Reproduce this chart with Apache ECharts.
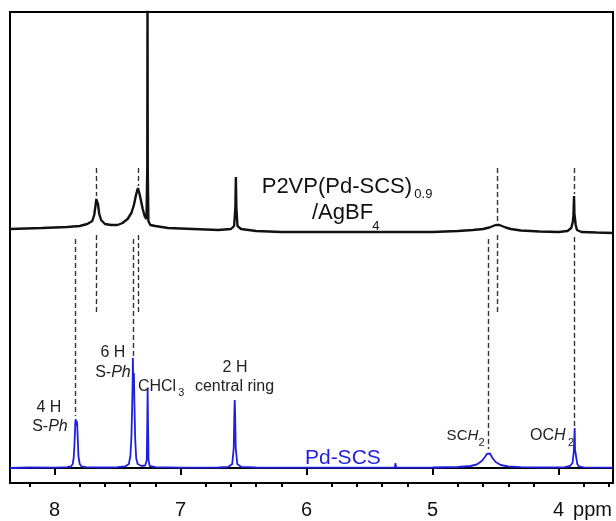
<!DOCTYPE html>
<html><head><meta charset="utf-8">
<script src="https://cdn.jsdelivr.net/npm/echarts@6/dist/echarts.min.js"></script>
<style>html,body{margin:0;padding:0;background:#fff}#c{width:616px;height:521px}</style>
</head><body><div id="c"></div>
<script>
// axis range (ppm, reversed) and ticks
const xMin = 3.569, xMax = 8.353;
const majorTicks = [4, 5, 6, 7, 8];
const minorTicks = [3.6, 3.8, 4.2, 4.4, 4.6, 4.8, 5.2, 5.4, 5.6, 5.8, 6.2, 6.4, 6.6, 6.8, 7.2, 7.4, 7.6, 7.8, 8.2];

// Pd-SCS (blue, bottom trace)
const bluePpm = [8.353, 8.20, 8.00, 7.90, 7.87, 7.855, 7.848, 7.842, 7.838, 7.835, 7.832, 7.828, 7.824, 7.82, 7.815, 7.81, 7.80, 7.785, 7.75, 7.60, 7.50, 7.44, 7.41, 7.398, 7.390, 7.384, 7.380, 7.378, 7.374, 7.370, 7.366, 7.36, 7.352, 7.34, 7.31, 7.28, 7.268, 7.264, 7.261, 7.258, 7.254, 7.245, 7.20, 7.00, 6.70, 6.62, 6.59, 6.578, 6.573, 6.570, 6.567, 6.562, 6.55, 6.52, 6.40, 6.00, 5.60, 5.30, 5.295, 5.29, 5.00, 4.80, 4.70, 4.65, 4.61, 4.585, 4.57, 4.558, 4.545, 4.525, 4.50, 4.46, 4.40, 4.30, 4.10, 3.95, 3.91, 3.89, 3.884, 3.88, 3.876, 3.873, 3.870, 3.866, 3.860, 3.852, 3.84, 3.80, 3.569];
const blueInt = [0, 0.5, 0.3, 0.8, 1.5, 4, 10, 22, 34, 46, 49, 42, 47, 44, 28, 12, 4, 1.5, 0.8, 0.5, 0.8, 1.5, 4, 12, 30, 60, 85, 110, 75, 95, 65, 30, 10, 4, 2, 2.5, 8, 45, 80, 45, 8, 2, 0.8, 0.4, 0.5, 1.2, 4, 20, 55, 68, 55, 20, 4, 1.2, 0.5, 0.3, 0.4, 0.4, 5, 0.4, 0.5, 1, 2, 3.5, 7, 11, 14, 16, 14.5, 10, 6, 3, 1.5, 0.8, 0.5, 0.8, 2, 5, 12, 16, 17, 40, 18, 15, 10, 4, 1.5, 0.6, 0.3];

// P2VP(Pd-SCS)0.9/AgBF4 (black, top trace)
const blackPpm = [8.353, 8.10, 7.90, 7.80, 7.74, 7.70, 7.685, 7.675, 7.668, 7.662, 7.655, 7.645, 7.63, 7.60, 7.55, 7.50, 7.46, 7.42, 7.39, 7.37, 7.355, 7.345, 7.338, 7.332, 7.325, 7.315, 7.30, 7.285, 7.27, 7.264, 7.262, 7.260, 7.255, 7.24, 7.20, 7.10, 6.90, 6.70, 6.60, 6.575, 6.565, 6.561, 6.557, 6.548, 6.52, 6.40, 6.20, 6.00, 5.50, 5.20, 5.00, 4.80, 4.68, 4.60, 4.55, 4.52, 4.50, 4.485, 4.47, 4.45, 4.42, 4.38, 4.30, 4.15, 4.00, 3.93, 3.90, 3.888, 3.883, 3.880, 3.878, 3.875, 3.871, 3.865, 3.855, 3.82, 3.70, 3.569];
const blackInt = [239, 240, 241, 242, 244, 247, 253, 262, 269, 270, 264, 254, 248, 244, 243, 243, 245, 249, 255, 263, 272, 277, 280, 278, 274, 268, 259, 252, 249, 300, 480, 300, 247, 243, 242, 240, 239, 238, 239, 242, 260, 291, 260, 242, 239, 237, 236, 236, 236, 236, 236, 237, 238, 239, 240.5, 242, 243, 243.5, 243, 242, 240.5, 239, 237.5, 236.5, 236, 237, 240, 246, 252, 254, 272, 254, 250, 243, 238, 236, 235.5, 235];

// dashed guide lines: shift, from, to
const guidePpm  = [7.665, 7.335, 4.484, 3.878, 7.665, 7.335, 4.484, 7.832, 7.378, 4.558, 3.873];
const guideFrom = [300, 300, 300, 300, 233, 233, 233, 229, 229, 229, 231];
const guideTo   = [272, 282, 246, 274, 156, 156, 156, 52, 112, 19, 42];

// peak annotations
const annTexts = ['4 H', '{n|S-}{i|Ph}', '6 H', '{n|S-}{i|Ph}', 'CHCl', '3', '2 H', 'central ring', '{s|SC}{si|H}', '2', '{n|OC}{i|H}', '2'];
const annPpm   = [8.044, 8.036, 7.536, 7.536, 7.338, 7.018, 6.568, 6.572, 4.889, 4.636, 4.228, 3.926];
const annVal   = [60, 41, 115, 95, 81, 75, 100, 81, 32, 25, 32, 25];
const annSub   = [false, false, false, false, false, true, false, false, false, true, false, true];
const annAlign = ['center', 'center', 'center', 'center', 'left', 'left', 'center', 'center', 'left', 'left', 'left', 'left'];

// trace names
const nameTexts = ['P2VP(Pd-SCS)', '0.9', '/AgBF', '4', 'Pd-SCS'];
const namePpm   = [6.356, 5.145, 5.957, 5.479, 6.013];
const nameVal   = [281.5, 274, 255, 241.5, 10];

const FONT = 'Liberation Sans';
const pair = (xs, ys) => xs.map((x, i) => [x, ys[i]]);

const annPoints = annTexts.map((t, i) => ({
  coord: [annPpm[i], annVal[i]],
  label: {
    show: true, position: 'inside', formatter: t,
    align: annAlign[i], verticalAlign: 'middle',
    fontSize: annSub[i] ? 11 : 16, color: '#222', fontFamily: FONT,
    rich: {
      n: { fontSize: 16, color: '#222', fontFamily: FONT },
      i: { fontSize: 16, color: '#222', fontFamily: FONT, fontStyle: 'italic' },
      s: { fontSize: 15, color: '#222', fontFamily: FONT },
      si: { fontSize: 15, color: '#222', fontFamily: FONT, fontStyle: 'italic' }
    }
  }
}));
const namePoints = nameTexts.map((t, i) => ({
  coord: [namePpm[i], nameVal[i]],
  label: {
    show: true, position: 'inside', formatter: t, align: 'left', verticalAlign: 'middle',
    fontSize: (i === 1 || i === 3) ? 13 : (i === 4 ? 21 : 22),
    color: i === 4 ? '#1f1fe0' : '#111', fontFamily: FONT
  }
}));
const guides = guidePpm.map((p, i) => [{ coord: [p, guideFrom[i]] }, { coord: [p, guideTo[i]] }]);

const chart = echarts.init(document.getElementById('c'), null, { renderer: 'canvas' });
chart.setOption({
  animation: false,
  textStyle: { fontFamily: FONT },
  grid: { left: 10, right: 3, top: 12, bottom: 38, show: true, borderColor: '#000', borderWidth: 2, backgroundColor: 'transparent' },
  xAxis: [{
    type: 'value', min: xMin, max: xMax, inverse: true,
    axisLine: { show: true, lineStyle: { color: '#000', width: 2 } },
    axisTick: { show: true, customValues: majorTicks, length: 7, lineStyle: { color: '#000', width: 2 } },
    axisLabel: { show: true, customValues: majorTicks, fontSize: 20, color: '#111', margin: 17, fontFamily: FONT },
    splitLine: { show: false }
  }, {
    type: 'value', min: xMin, max: xMax, inverse: true, position: 'bottom',
    axisLine: { show: false },
    axisTick: { show: true, customValues: minorTicks, length: 4, lineStyle: { color: '#000', width: 2 } },
    axisLabel: { show: false },
    splitLine: { show: false }
  }],
  yAxis: { type: 'value', min: -15, max: 456, show: false, splitLine: { show: false } },
  graphic: [{ type: 'text', right: 4, top: 500, style: { text: 'ppm', fontSize: 20, fill: '#111', fontFamily: FONT } }],
  series: [{
    type: 'line', name: 'P2VP(Pd-SCS)0.9/AgBF4', data: pair(blackPpm, blackInt),
    showSymbol: false, clip: true, lineStyle: { color: '#111', width: 2.4 }, z: 3,
    markPoint: { symbol: 'circle', symbolSize: 0, silent: true, data: namePoints, itemStyle: { color: 'transparent' } }
  }, {
    type: 'line', name: 'Pd-SCS', data: pair(bluePpm, blueInt),
    showSymbol: false, clip: true, lineStyle: { color: '#1f1fe0', width: 1.8 }, z: 3,
    markLine: { silent: true, symbol: ['none', 'none'], label: { show: false },
      lineStyle: { color: '#333', width: 1.4, type: [5, 3] }, data: guides },
    markPoint: { symbol: 'circle', symbolSize: 0, silent: true, data: annPoints, itemStyle: { color: 'transparent' } }
  }]
});
</script></body></html>
